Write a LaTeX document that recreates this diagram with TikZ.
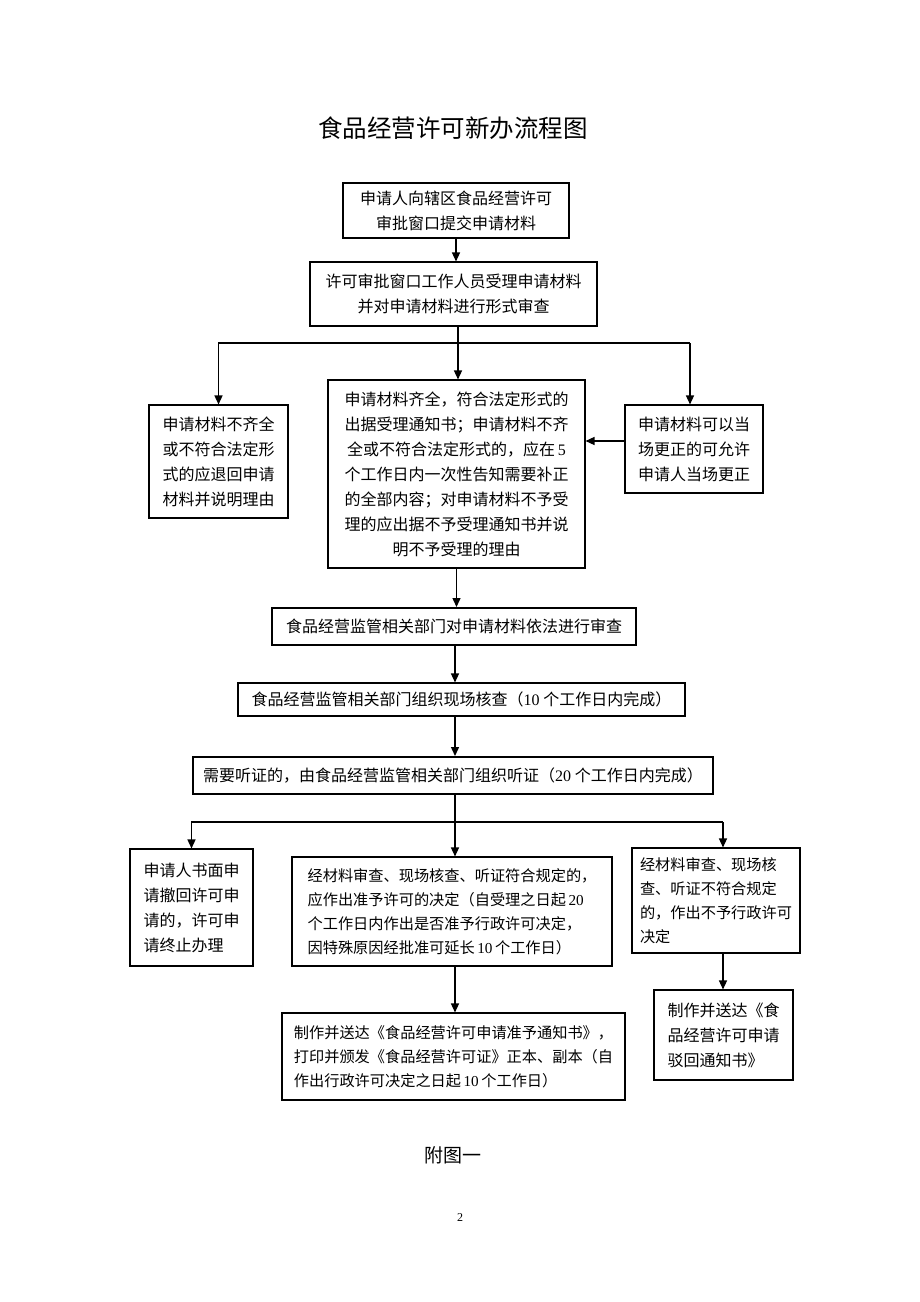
\documentclass[tikz,border=0pt]{standalone}
\usepackage{fontspec}
\setmainfont{Liberation Serif}
\newfontfamily\cjk{Noto Sans CJK SC}
\usetikzlibrary{arrows.meta}
\newcommand\dnum[1]{{\rmfamily #1}}
\begin{document}
\begin{tikzpicture}[x=1pt,y=-1pt,
  box/.style={draw,line width=1.1pt,inner sep=0pt,align=center,font=\cjk\fontsize{16}{25}\selectfont},
  boldbox/.style={box,line width=2pt},
  smallbox/.style={box,font=\cjk\fontsize{15.2}{24}\selectfont},
  arr/.style={line width=1.4pt,-{Triangle[length=9pt,width=8pt]}},
  ln/.style={line width=1.4pt}]
\useasboundingbox (0,0) rectangle (920,1302);
\fill[white] (0,0) rectangle (920,1302);

\node (title) at (453,128) {\cjk\fontsize{24.5}{28}\selectfont 食品经营许可新办流程图};

\node[box,minimum width=226,minimum height=55] (A) at (456,210.5)
  {申请人向辖区食品经营许可\\审批窗口提交申请材料};
\node[box,minimum width=287,minimum height=64] (B) at (453.5,294)
  {许可审批窗口工作人员受理申请材料\\并对申请材料进行形式审查};
\node[box,minimum width=257,minimum height=188] (M) at (456.5,474)
  {申请材料齐全，符合法定形式的\\出据受理通知书；申请材料不齐\\全或不符合法定形式的，应在\,\dnum{5}\\个工作日内一次性告知需要补正\\的全部内容；对申请材料不予受\\理的应出据不予受理通知书并说\\明不予受理的理由};
\node[box,minimum width=139,minimum height=113] (L) at (218.5,461.5)
  {申请材料不齐全\\或不符合法定形\\式的应退回申请\\材料并说明理由};
\node[box,minimum width=138,minimum height=88] (R) at (694,449)
  {申请材料可以当\\场更正的可允许\\申请人当场更正};
\node[boldbox,minimum width=364,minimum height=37] (C) at (454,626.5)
  {食品经营监管相关部门对申请材料依法进行审查};
\node[box,minimum width=447,minimum height=33] (D) at (461.5,699.5)
  {食品经营监管相关部门组织现场核查（\dnum{10} 个工作日内完成）};
\node[boldbox,minimum width=520,minimum height=37] (E) at (453,775.5)
  {需要听证的，由食品经营监管相关部门组织听证（\dnum{20} 个工作日内完成）};
\node[box,align=left,minimum width=123,minimum height=117] (BL) at (191.5,907.5)
  {申请人书面申\\请撤回许可申\\请的，许可申\\请终止办理};
\node[smallbox,align=left,minimum width=320,minimum height=109] (F) at (452,911.5)
  {经材料审查、现场核查、听证符合规定的，\\应作出准予许可的决定（自受理之日起\,\dnum{20}\\个工作日内作出是否准予行政许可决定，\\因特殊原因经批准可延长\,\dnum{10}\,个工作日）};
\node[smallbox,align=left,minimum width=168,minimum height=105] (G) at (716,900.5)
  {经材料审查、现场核\\查、听证不符合规定\\的，作出不予行政许可\\决定};
\node[smallbox,align=left,minimum width=343,minimum height=87] (H) at (453.5,1056.5)
  {制作并送达《食品经营许可申请准予通知书》，\\打印并颁发《食品经营许可证》正本、副本（自\\作出行政许可决定之日起\,\dnum{10}\,个工作日）};
\node[box,align=left,minimum width=139,minimum height=90] (I) at (723.5,1035)
  {制作并送达《食\\品经营许可申请\\驳回通知书》};

\node (fig) at (453,1155) {\cjk\fontsize{19}{22}\selectfont 附图一};
\node (page) at (460,1218) {\fontsize{12}{14}\selectfont 2};

% connectors
\draw[arr] (A.south) -- (A.south |- B.north);
\coordinate (s1) at (458,343);
\draw[ln] (s1 |- B.south) -- (s1);
\draw[arr] (s1) -- (s1 |- M.north);
\draw[arr] (s1) -| (L.north);
\coordinate (r1) at (690,343);
\draw[ln] (s1) -- (r1);
\draw[arr] (r1) -- (r1 |- R.north);
\coordinate (m1) at (600,441);
\draw[arr] (R.west |- m1) -- (M.east |- m1);
\draw[arr] (M.south) -- (M.south |- C.north);
\coordinate (s2) at (455,822);
\draw[arr] (s2 |- C.south) -- (s2 |- D.north);
\draw[arr] (s2 |- D.south) -- (s2 |- E.north);
\draw[ln] (s2 |- E.south) -- (s2);
\draw[arr] (s2) -- (s2 |- F.north);
\draw[arr] (s2) -| (BL.north);
\coordinate (g1) at (723,822);
\draw[ln] (s2) -- (g1);
\draw[arr] (g1) -- (g1 |- G.north);
\draw[arr] (s2 |- F.south) -- (s2 |- H.north);
\draw[arr] (g1 |- G.south) -- (g1 |- I.north);
\end{tikzpicture}
\end{document}
